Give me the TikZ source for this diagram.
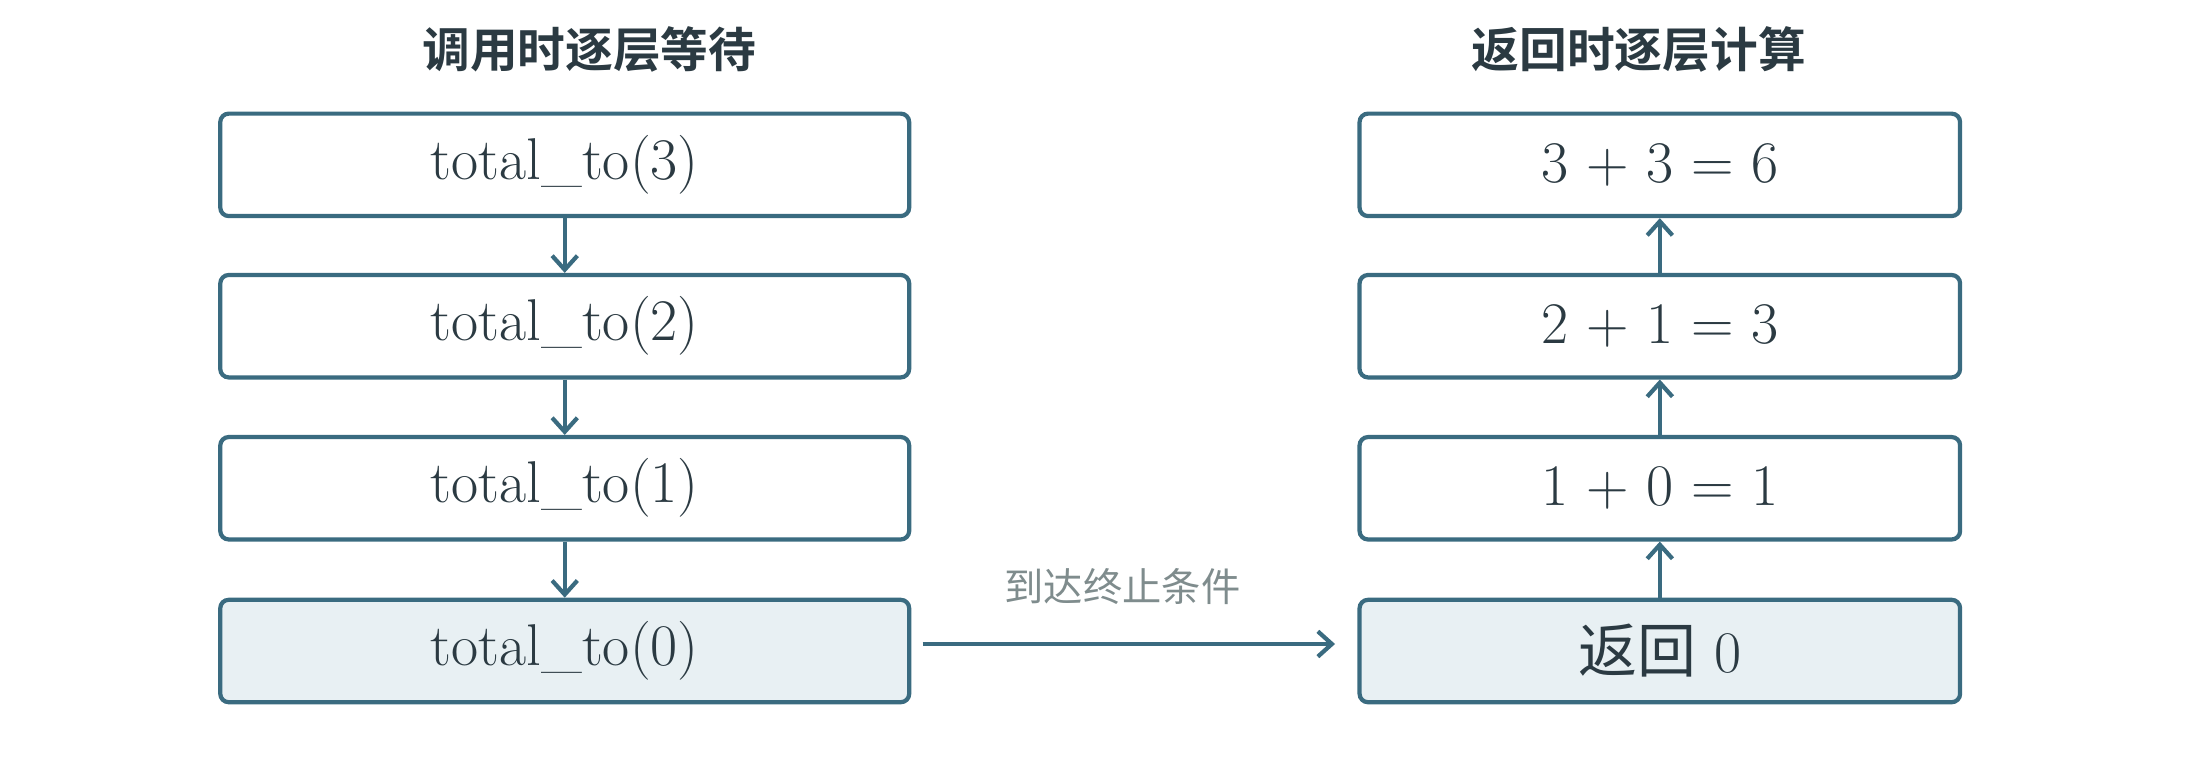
\documentclass[tikz,border=0pt]{standalone}
\usepackage{fontspec}
\newfontfamily\cjk[BoldFont=Noto Sans CJK SC Bold]{Noto Sans CJK SC}
\usetikzlibrary{arrows.meta}
\definecolor{edgeblue}{HTML}{3A6B80}
\definecolor{boxfill}{HTML}{E8F0F3}
\definecolor{inktext}{HTML}{2B3A42}
\definecolor{notegray}{HTML}{7F8C8D}
\tikzset{
  stack/.style={draw=edgeblue,line width=1.5pt,rounded corners=3pt,fill=white,text=inktext,font=\fontsize{21}{24}\selectfont,inner sep=0pt},
  leftbox/.style={stack,minimum width=245.5pt,minimum height=36.5pt},
  rightbox/.style={stack,minimum width=214pt,minimum height=36.5pt},
  base/.style={fill=boxfill},
  flow/.style={draw=edgeblue,line width=1.5pt,-{Straight Barb[length=5pt,width=9pt]}},
  title/.style={text=inktext,font=\cjk\bfseries\fontsize{17}{20}\selectfont},
}
\begin{document}
\begin{tikzpicture}[x=0.5pt,y=0.5pt,yscale=-1]
  \useasboundingbox (0,0) rectangle (1568,549);

  % titles
  \node[title] (ltitle) at (420,35) {调用时逐层等待};
  \node[title] (rtitle) at (1168,35) {返回时逐层计算};

  % calls
  \node[leftbox] (c3) at (402.5,117.5) {total\_to(3)};
  \node[leftbox] (c2) at (402.5,232.5) {total\_to(2)};
  \node[leftbox] (c1) at (402.5,348) {total\_to(1)};
  \node[leftbox,base] (c0) at (402.5,464) {total\_to(0)};

  % returns
  \node[rightbox] (r3) at (1183,117.5) {3 + 3 = 6};
  \node[rightbox] (r2) at (1183,232.5) {2 + 1 = 3};
  \node[rightbox] (r1) at (1183,348) {1 + 0 = 1};
  \node[rightbox,base] (r0) at (1183,464) {{\cjk 返回} 0};

  \draw[flow] (c3) -- (c2);
  \draw[flow] (c2) -- (c1);
  \draw[flow] (c1) -- (c0);
  \draw[flow] (r0) -- (r1);
  \draw[flow] (r1) -- (r2);
  \draw[flow] (r2) -- (r3);

  \draw[flow,shorten <=4pt,shorten >=8pt] (c0.east) ++(0,-5) coordinate (tail) -- (tail -| r0.west);
  \node[text=notegray,font=\cjk\fontsize{14}{16}\selectfont] (stop) at (800,418) {到达终止条件};
\end{tikzpicture}
\end{document}
